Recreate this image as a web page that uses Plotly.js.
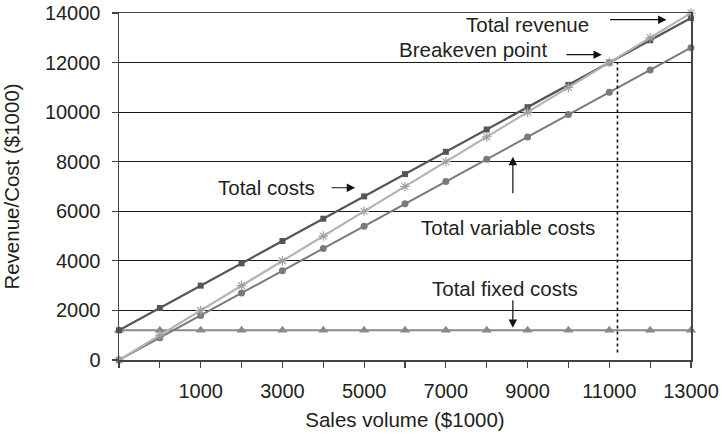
<!DOCTYPE html>
<html>
<head>
<meta charset="utf-8">
<script src="https://cdn.plot.ly/plotly-3.0.1.min.js"></script>
<style>
  html, body { margin: 0; padding: 0; background: #fff; }
  #chart { width: 721px; height: 435px; }
</style>
</head>
<body>
<div id="chart"></div>
<script>
// Sales volume positions along the category axis ($1000)
const salesVolume = [-1000, 0, 1000, 2000, 3000, 4000, 5000, 6000, 7000, 8000, 9000, 10000, 11000, 12000, 13000];
// Series values ($1000)
const totalRevenue = [0, 1000, 2000, 3000, 4000, 5000, 6000, 7000, 8000, 9000, 10000, 11000, 12000, 13000, 14000];
const totalCosts = [1200, 2100, 3000, 3900, 4800, 5700, 6600, 7500, 8400, 9300, 10200, 11100, 12000, 12900, 13800];
const totalVariableCosts = [0, 900, 1800, 2700, 3600, 4500, 5400, 6300, 7200, 8100, 9000, 9900, 10800, 11700, 12600];
const totalFixedCosts = [1200, 1200, 1200, 1200, 1200, 1200, 1200, 1200, 1200, 1200, 1200, 1200, 1200, 1200, 1200];
// Axis labels
const xTickVals = [1000, 3000, 5000, 7000, 9000, 11000, 13000];
const xTickText = ['1000', '3000', '5000', '7000', '9000', '11000', '13000'];
const yTickVals = [0, 2000, 4000, 6000, 8000, 10000, 12000, 14000];
const yTickText = ['0', '2000', '4000', '6000', '8000', '10000', '12000', '14000'];
// Breakeven marker (sales volume, level)
const breakevenX = 11200;
const breakevenY = 12000;

const FONT = 'Liberation Sans, Arial, Helvetica, sans-serif';
const TEXT = '#231f20';

function series(name, y, color, width, symbol, size, mcolor) {
  return {
    type: 'scatter', mode: 'lines+markers', name: name,
    x: salesVolume, y: y, cliponaxis: false,
    line: { color: color, width: width },
    marker: { symbol: symbol, size: size, color: mcolor || color,
              line: { color: mcolor || color, width: symbol.indexOf('open') >= 0 ? 1.2 : 0 } },
    hoverinfo: 'skip'
  };
}

const data = [
  series('Total fixed costs', totalFixedCosts, '#8a8a8a', 2.2, 'triangle-up', 9),
  series('Total variable costs', totalVariableCosts, '#7a7a7a', 2, 'circle', 7),
  series('Total costs', totalCosts, '#555555', 2.2, 'square', 6),
  series('Total revenue', totalRevenue, '#b4b4b4', 2.2, 'asterisk-open', 8, '#a0a0a0')
];

const arrow = { showarrow: true, arrowhead: 2, arrowsize: 1.4, arrowwidth: 1.2, arrowcolor: '#111',
                axref: 'pixel', ayref: 'pixel' };
const label = (text, x, y) => ({ text: text, x: x, y: y, xref: 'x', yref: 'y', showarrow: false,
                                 font: { family: FONT, size: 20.5, color: TEXT } });

const layout = {
  width: 721, height: 435,
  margin: { l: 119, r: 30, t: 13, b: 75 },
  paper_bgcolor: '#fff', plot_bgcolor: '#fff',
  showlegend: false,
  font: { family: FONT, color: TEXT, size: 20 },
  xaxis: {
    range: [-1000, 13000], tickmode: 'array', tickvals: xTickVals, ticktext: xTickText,
    ticks: 'outside', ticklen: 6, tickwidth: 1.2, tickcolor: '#444',
    showline: true, linecolor: '#444', linewidth: 1.5, mirror: true,
    showgrid: false, zeroline: false, ticklabelstandoff: 6,
    minor: { ticks: 'outside', ticklen: 6, tickwidth: 1.2, tickcolor: '#444', dtick: 1000, tick0: 0, showgrid: false },
    tickfont: { family: FONT, size: 20, color: TEXT },
    title: { text: 'Sales volume ($1000)', font: { family: FONT, size: 20.5, color: TEXT }, standoff: 12 }
  },
  yaxis: {
    range: [0, 14000], tickmode: 'array', tickvals: yTickVals, ticktext: yTickText,
    ticks: 'outside', ticklen: 6, tickwidth: 1.2, tickcolor: '#444',
    showline: true, linecolor: '#444', linewidth: 1.5, mirror: true,
    showgrid: true, gridcolor: '#1a1a1a', gridwidth: 1, zeroline: false,
    ticklabelstandoff: 7,
    tickfont: { family: FONT, size: 20, color: TEXT },
    title: { text: 'Revenue/Cost ($1000)', font: { family: FONT, size: 20.5, color: TEXT }, standoff: 24 }
  },
  shapes: [
    { type: 'line', xref: 'x', yref: 'y', x0: breakevenX, x1: breakevenX, y0: 300, y1: breakevenY,
      line: { color: '#111', width: 1.6, dash: 'dot' } }
  ],
  annotations: [
    label('Total revenue', 9000, 13530),
    Object.assign({ text: '', x: 12400, y: 13730, xref: 'x', yref: 'y', ax: -58, ay: 0 }, arrow),
    label('Breakeven point', 7660, 12520),
    Object.assign({ text: '', x: 10820, y: 12320, xref: 'x', yref: 'y', ax: -37, ay: 0 }, arrow),
    label('Total costs', 2620, 6950),
    Object.assign({ text: '', x: 4780, y: 6950, xref: 'x', yref: 'y', ax: -25, ay: 0 }, arrow),
    Object.assign({ text: '', x: 8640, y: 8200, xref: 'x', yref: 'y', ax: 0, ay: 38 }, arrow),
    label('Total variable costs', 8520, 5330),
    label('Total fixed costs', 8450, 2870),
    Object.assign({ text: '', x: 8640, y: 1300, xref: 'x', yref: 'y', ax: 0, ay: -29 }, arrow)
  ]
};

Plotly.newPlot('chart', data, layout, { staticPlot: true, displayModeBar: false });
</script>
</body>
</html>
